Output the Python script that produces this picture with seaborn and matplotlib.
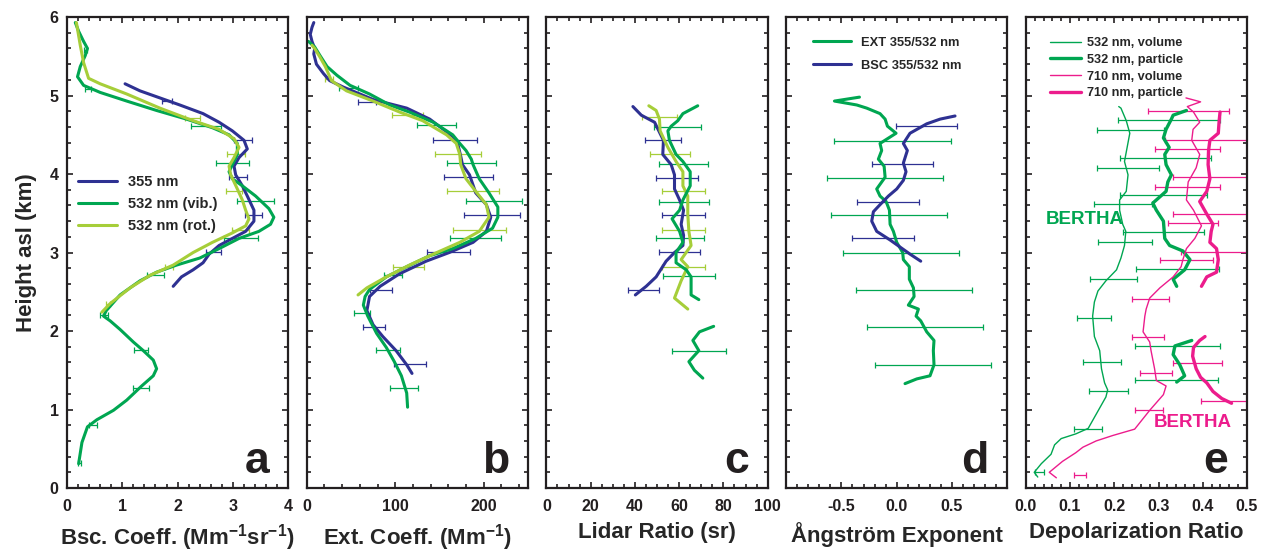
import numpy as np
import matplotlib
matplotlib.use("Agg")
import matplotlib.pyplot as plt
from matplotlib.ticker import MultipleLocator
import seaborn as sns

# colours
BLUE = "#2E3192"
GREEN = "#00A651"
LGREEN = "#A6CE39"
MAGENTA = "#EC1C8C"

# ---- panel a: backscatter coefficient (Mm-1 sr-1) ----
a_355_x = [1.92, 2.07, 2.28, 2.46, 2.57, 2.75, 2.99, 3.23, 3.38, 3.38, 3.26, 3.17, 3.05, 3.02, 3.11, 3.26, 3.20, 2.99, 2.75, 2.46, 2.04, 1.68, 1.32, 1.05]
a_355_y = [2.57, 2.69, 2.78, 2.87, 2.98, 3.09, 3.18, 3.27, 3.40, 3.54, 3.72, 3.85, 3.99, 4.10, 4.21, 4.32, 4.43, 4.55, 4.66, 4.77, 4.88, 4.97, 5.06, 5.15]
a_vib_x = [0.21, 0.27, 0.37, 0.54, 0.84, 1.08, 1.35, 1.56, 1.62, 1.56, 1.38, 1.20, 0.96, 0.78, 0.66, 0.71, 0.96, 1.32, 1.62, 1.98, 2.40, 2.75, 3.11, 3.47, 3.68, 3.74, 3.65, 3.41, 3.17, 2.99, 2.93, 2.99, 3.08, 3.08, 2.93, 2.63, 2.16, 1.62, 1.08, 0.60, 0.30, 0.19, 0.24, 0.33, 0.37, 0.30, 0.21, 0.15]
a_vib_y = [0.31, 0.58, 0.78, 0.87, 0.99, 1.12, 1.30, 1.43, 1.52, 1.63, 1.75, 1.86, 2.02, 2.13, 2.19, 2.26, 2.46, 2.64, 2.75, 2.84, 2.93, 3.05, 3.18, 3.27, 3.36, 3.45, 3.56, 3.72, 3.85, 3.94, 4.03, 4.12, 4.25, 4.39, 4.50, 4.59, 4.70, 4.81, 4.93, 5.04, 5.13, 5.24, 5.37, 5.51, 5.60, 5.69, 5.82, 5.93]
a_rot_x = [0.63, 0.78, 1.14, 1.50, 1.92, 2.28, 2.63, 2.99, 3.23, 3.29, 3.23, 3.17, 3.08, 2.96, 2.93, 3.02, 3.11, 3.02, 2.75, 2.28, 1.68, 1.08, 0.60, 0.39, 0.30, 0.24, 0.17]
a_rot_y = [2.24, 2.35, 2.55, 2.71, 2.84, 3.00, 3.13, 3.25, 3.34, 3.43, 3.54, 3.67, 3.81, 3.99, 4.10, 4.21, 4.34, 4.45, 4.57, 4.68, 4.84, 5.02, 5.15, 5.22, 5.42, 5.64, 5.93]
a_355_err_y = [3.01, 3.48, 3.96, 4.43, 4.93]
a_355_err_lo = [2.51, 3.22, 2.93, 3.02, 1.72]
a_355_err_hi = [2.78, 3.53, 3.25, 3.35, 1.90]
a_vib_err_y = [0.32, 0.80, 1.28, 1.76, 2.21, 2.71, 3.19, 3.66, 4.14, 4.61, 5.08, 5.58]
a_vib_err_lo = [0.19, 0.39, 1.20, 1.21, 0.60, 1.44, 2.83, 3.07, 2.69, 2.25, 0.32, 0.30]
a_vib_err_hi = [0.25, 0.54, 1.49, 1.47, 0.75, 1.75, 3.46, 3.75, 3.29, 2.78, 0.43, 0.37]
a_rot_err_y = [2.35, 2.81, 3.29, 3.78, 4.26, 4.72]
a_rot_err_lo = [0.70, 1.77, 2.98, 2.87, 2.90, 2.13]
a_rot_err_hi = [0.78, 1.92, 3.29, 3.17, 3.22, 2.40]

# ---- panel b: extinction coefficient (Mm-1) ----
b_355_x = [119, 113, 101, 86, 75, 68, 71, 83, 105, 135, 161, 188, 203, 208, 203, 191, 184, 176, 174, 171, 165, 139, 113, 75, 41, 26, 19, 11, 8, 9, 6, 4, 6, 8]
b_355_y = [1.46, 1.57, 1.75, 1.93, 2.08, 2.26, 2.44, 2.57, 2.73, 2.89, 3.00, 3.13, 3.27, 3.45, 3.61, 3.76, 3.99, 4.12, 4.23, 4.37, 4.48, 4.70, 4.84, 4.95, 5.11, 5.19, 5.28, 5.40, 5.53, 5.60, 5.69, 5.78, 5.87, 5.93]
b_vib_x = [114, 113, 107, 99, 90, 79, 69, 64, 66, 71, 90, 113, 139, 165, 191, 210, 216, 216, 206, 195, 188, 186, 180, 173, 165, 143, 116, 94, 71, 49, 34, 23, 15, 9, 2]
b_vib_y = [1.03, 1.21, 1.43, 1.61, 1.79, 1.97, 2.19, 2.33, 2.44, 2.53, 2.69, 2.82, 2.96, 3.05, 3.18, 3.31, 3.45, 3.58, 3.76, 3.94, 4.12, 4.19, 4.30, 4.39, 4.50, 4.66, 4.79, 4.88, 5.02, 5.13, 5.26, 5.37, 5.51, 5.62, 5.69]
b_rot_x = [58, 68, 90, 116, 143, 173, 195, 206, 203, 191, 180, 174, 173, 169, 158, 131, 105, 75, 45, 28, 21, 15, 9, 6]
b_rot_y = [2.46, 2.55, 2.69, 2.84, 2.98, 3.13, 3.27, 3.45, 3.61, 3.78, 3.94, 4.12, 4.25, 4.39, 4.50, 4.68, 4.79, 4.93, 5.06, 5.19, 5.37, 5.49, 5.60, 5.64]
b_355_err_y = [1.58, 2.05, 2.52, 3.01, 3.48, 3.96, 4.43, 4.92]
b_355_err_lo = [99, 64, 71, 136, 178, 155, 143, 58]
b_355_err_hi = [135, 88, 96, 185, 241, 210, 193, 78]
b_vib_err_y = [1.28, 1.76, 2.23, 2.71, 3.19, 3.66, 4.14, 4.62, 5.10]
b_vib_err_lo = [94, 78, 53, 87, 162, 180, 158, 125, 36]
b_vib_err_hi = [126, 105, 71, 108, 220, 243, 214, 169, 58]
b_rot_err_y = [2.81, 3.29, 3.78, 4.26, 4.75, 5.21]
b_rot_err_lo = [98, 165, 159, 145, 96, 21]
b_rot_err_hi = [132, 225, 217, 197, 131, 30]

# ---- panel c: lidar ratio (sr) ----
c_355_x = [40.2, 45.1, 49.6, 54.1, 57.9, 61.7, 62.0, 60.9, 62.0, 60.2, 57.9, 57.9, 56.4, 52.6, 52.9, 48.9, 42.9, 39.1]
c_355_y = [2.46, 2.57, 2.69, 2.89, 3.00, 3.09, 3.22, 3.36, 3.54, 3.67, 3.81, 3.99, 4.12, 4.25, 4.43, 4.66, 4.75, 4.86]
c_rot_x = [63.9, 57.9, 60.9, 63.9, 60.9, 65.4, 64.4, 63.9, 63.9, 61.7, 61.7, 58.6, 54.9, 51.4, 51.1, 49.6, 46.3]
c_rot_y = [2.28, 2.42, 2.64, 2.82, 2.91, 3.09, 3.27, 3.49, 3.72, 3.85, 4.03, 4.16, 4.34, 4.55, 4.70, 4.81, 4.87]
c_vib_x = [68.9, 65.4, 65.4, 63.2, 58.6, 58.6, 61.7, 60.2, 56.8, 60.2, 61.7, 65.0, 65.0, 61.7, 58.6, 55.6, 54.9, 56.4, 59.4, 61.7, 68.4]
c_vib_y = [2.40, 2.46, 2.69, 2.78, 2.87, 3.00, 3.13, 3.27, 3.43, 3.54, 3.67, 3.85, 4.03, 4.16, 4.25, 4.43, 4.55, 4.61, 4.68, 4.77, 4.87]
c_vib_low_x = [70.7, 66.9, 64.4, 68.9, 66.2, 69.2, 75.6]
c_vib_low_y = [1.40, 1.50, 1.61, 1.75, 1.88, 1.99, 2.06]
c_vib_err_y = [1.75, 2.70, 3.18, 3.65, 4.13, 4.60]
c_vib_err_lo = [56.7, 52.9, 49.6, 50.7, 50.7, 48.6]
c_vib_err_hi = [81.2, 76.2, 71.1, 73.4, 72.9, 69.9]
c_355_err_y = [2.52, 3.01, 3.48, 3.95, 4.43]
c_355_err_lo = [37.1, 50.7, 52.3, 49.6, 44.4]
c_355_err_hi = [50.7, 69.6, 71.9, 68.4, 60.9]
c_rot_err_y = [2.81, 3.29, 3.78, 4.25, 4.73]
c_rot_err_lo = [52.2, 52.3, 52.3, 46.9, 43.3]
c_rot_err_hi = [71.7, 71.9, 71.9, 65.0, 59.0]

# ---- panel d: Angstrom exponent ----
d_ext_x = [0.075, 0.181, 0.301, 0.337, 0.331, 0.337, 0.271, 0.217, 0.175, 0.196, 0.105, 0.157, 0.151, 0.114, 0.114, 0.060, 0.054, 0.0, -0.030, -0.060, -0.066, -0.096, -0.151, -0.181, -0.105, -0.114, -0.166, -0.136, -0.151, -0.006, -0.084, -0.105, -0.151, -0.271, -0.361, -0.563, -0.337]
d_ext_y = [1.33, 1.39, 1.43, 1.57, 1.75, 1.88, 1.99, 2.13, 2.19, 2.28, 2.33, 2.44, 2.55, 2.66, 2.82, 2.91, 3.00, 3.13, 3.27, 3.36, 3.54, 3.65, 3.72, 3.81, 3.96, 4.10, 4.19, 4.30, 4.39, 4.52, 4.61, 4.70, 4.77, 4.84, 4.88, 4.93, 4.98]
d_bsc_x = [0.217, 0.120, 0.030, -0.060, -0.181, -0.226, -0.211, -0.151, -0.075, 0.0, 0.060, 0.084, 0.060, 0.096, 0.060, 0.120, 0.271, 0.392, 0.527]
d_bsc_y = [2.89, 2.98, 3.07, 3.16, 3.27, 3.40, 3.52, 3.61, 3.72, 3.81, 3.92, 4.03, 4.14, 4.30, 4.39, 4.52, 4.64, 4.70, 4.74]
d_ext_err_y = [1.57, 2.05, 2.52, 3.00, 3.48, 3.95, 4.42]
d_ext_err_lo = [-0.196, -0.265, -0.367, -0.488, -0.596, -0.633, -0.563]
d_ext_err_hi = [0.849, 0.777, 0.684, 0.563, 0.458, 0.422, 0.488]
d_bsc_err_y = [3.18, 3.65, 4.13, 4.61]
d_bsc_err_lo = [-0.401, -0.355, -0.220, -0.009]
d_bsc_err_hi = [0.157, 0.202, 0.331, 0.548]

# ---- panel e: depolarization ratio ----
e_g_vol_x = [0.027, 0.019, 0.035, 0.057, 0.065, 0.080, 0.113, 0.141, 0.159, 0.181, 0.185, 0.178, 0.171, 0.167, 0.155, 0.151, 0.155, 0.163, 0.181, 0.205, 0.215, 0.223, 0.226, 0.219, 0.212, 0.212, 0.227, 0.231, 0.223, 0.229, 0.235, 0.227, 0.215, 0.210]
e_g_vol_y = [0.14, 0.20, 0.31, 0.43, 0.55, 0.63, 0.69, 0.76, 0.94, 1.16, 1.25, 1.34, 1.52, 1.75, 1.93, 2.19, 2.37, 2.51, 2.64, 2.78, 2.93, 3.09, 3.27, 3.36, 3.54, 3.67, 3.78, 3.99, 4.16, 4.34, 4.52, 4.68, 4.84, 4.86]
e_m_vol_x = [0.069, 0.053, 0.083, 0.113, 0.129, 0.159, 0.197, 0.246, 0.280, 0.311, 0.317, 0.295, 0.291, 0.283, 0.280, 0.265, 0.269, 0.272, 0.280, 0.303, 0.333, 0.351, 0.355, 0.363, 0.382, 0.397, 0.379, 0.363, 0.367, 0.385, 0.393, 0.375, 0.378, 0.393, 0.379, 0.365, 0.395, 0.362]
e_m_vol_y = [0.13, 0.20, 0.34, 0.45, 0.52, 0.60, 0.67, 0.75, 0.99, 1.19, 1.30, 1.37, 1.52, 1.75, 1.86, 1.99, 2.19, 2.28, 2.42, 2.55, 2.69, 2.82, 2.91, 3.05, 3.18, 3.34, 3.54, 3.67, 3.90, 4.08, 4.25, 4.43, 4.57, 4.66, 4.79, 4.86, 4.92, 4.97]
e_g_par_x = [0.341, 0.333, 0.359, 0.371, 0.355, 0.325, 0.314, 0.311, 0.295, 0.287, 0.317, 0.321, 0.329, 0.317, 0.314, 0.324, 0.311, 0.317, 0.329, 0.333, 0.363]
e_g_par_y = [2.57, 2.66, 2.78, 2.91, 3.02, 3.09, 3.18, 3.40, 3.54, 3.63, 3.78, 3.90, 3.99, 4.12, 4.25, 4.34, 4.46, 4.57, 4.70, 4.75, 4.81]
e_g_par_low_x = [0.341, 0.359, 0.348, 0.333, 0.337, 0.375]
e_g_par_low_y = [1.35, 1.43, 1.57, 1.70, 1.81, 1.88]
e_m_par_x = [0.397, 0.409, 0.431, 0.435, 0.431, 0.416, 0.419, 0.423, 0.409, 0.393, 0.409, 0.416, 0.412, 0.413, 0.416, 0.435, 0.437, 0.439]
e_m_par_y = [2.57, 2.69, 2.75, 2.91, 3.05, 3.13, 3.27, 3.36, 3.49, 3.65, 3.78, 3.94, 4.12, 4.30, 4.43, 4.52, 4.68, 4.79]
e_m_par_low_x = [0.465, 0.443, 0.423, 0.409, 0.395, 0.385, 0.377, 0.379, 0.393, 0.405]
e_m_par_low_y = [1.08, 1.14, 1.23, 1.34, 1.41, 1.52, 1.68, 1.79, 1.88, 1.93]
e_g_vol_err_y = [0.20, 0.75, 1.23, 1.60, 2.16, 2.66, 3.13, 3.62, 4.08, 4.56]
e_g_vol_err_lo = [0.021, 0.108, 0.143, 0.130, 0.116, 0.146, 0.163, 0.155, 0.161, 0.161]
e_g_vol_err_hi = [0.040, 0.173, 0.231, 0.215, 0.193, 0.251, 0.286, 0.286, 0.301, 0.312]
e_g_par_err_y = [1.37, 1.81, 2.79, 3.26, 3.73, 4.20, 4.69]
e_g_par_err_lo = [0.246, 0.246, 0.249, 0.219, 0.212, 0.212, 0.209]
e_g_par_err_hi = [0.435, 0.440, 0.437, 0.403, 0.409, 0.419, 0.440]
e_m_vol_err_y = [0.17, 0.99, 1.47, 1.93, 2.41, 2.90, 3.38, 3.84, 4.32, 4.80]
e_m_vol_err_lo = [0.109, 0.246, 0.259, 0.239, 0.239, 0.304, 0.321, 0.291, 0.291, 0.277]
e_m_vol_err_hi = [0.135, 0.309, 0.331, 0.312, 0.324, 0.423, 0.435, 0.440, 0.440, 0.460]
e_m_par_err_y = [1.11, 1.59, 3.01, 3.49, 3.96, 4.44]
e_m_par_err_lo = [0.397, 0.333, 0.351, 0.333, 0.333, 0.315]
e_m_par_err_hi = [0.56, 0.444, 0.56, 0.56, 0.56, 0.56]

sns.set_theme(style="ticks")
plt.rcParams["font.family"] = ["Liberation Sans", "DejaVu Sans"]
plt.rcParams["font.weight"] = "bold"
plt.rcParams["axes.labelweight"] = "bold"
plt.rcParams["mathtext.fontset"] = "custom"
plt.rcParams["mathtext.rm"] = "Liberation Sans:bold"
plt.rcParams["mathtext.bf"] = "Liberation Sans:bold"
plt.rcParams["mathtext.default"] = "rm"


def profile(ax, xs, ys, color, lw=2.2):
    sns.lineplot(x=xs, y=ys, sort=False, estimator=None, color=color,
                 linewidth=lw, ax=ax)
    return ax.lines[-1]


def errbars(ax, ys, lo, hi, color):
    lo = np.array(lo)
    hi = np.array(hi)
    ax.errorbar((lo + hi) / 2, ys, xerr=(hi - lo) / 2, fmt="none", ecolor=color,
                elinewidth=0.9, capsize=2.2, capthick=0.9)


fig, axes = plt.subplots(1, 5, figsize=(12.69, 5.51), dpi=100, sharey=True)
fig.subplots_adjust(left=0.0528, right=0.9827, bottom=0.1143, top=0.969, wspace=0.0835)

# panel a
ax = axes[0]
errbars(ax, a_355_err_y, a_355_err_lo, a_355_err_hi, BLUE)
errbars(ax, a_vib_err_y, a_vib_err_lo, a_vib_err_hi, GREEN)
errbars(ax, a_rot_err_y, a_rot_err_lo, a_rot_err_hi, LGREEN)
h1 = profile(ax, a_355_x, a_355_y, BLUE)
h2 = profile(ax, a_vib_x, a_vib_y, GREEN)
h3 = profile(ax, a_rot_x, a_rot_y, LGREEN)
ax.legend([h1, h2, h3], ["355 nm", "532 nm (vib.)", "532 nm (rot.)"], loc="upper left",
          bbox_to_anchor=(0.05, 0.665), frameon=False, fontsize=10.5, borderpad=0,
          borderaxespad=0, handlelength=2.7, handletextpad=0.7, labelspacing=0.55)
ax.set_xlim(0, 4)
ax.xaxis.set_major_locator(MultipleLocator(1))
ax.xaxis.set_minor_locator(MultipleLocator(0.2))
ax.set_xlabel(r"Bsc. Coeff. (Mm$^{-1}$sr$^{-1}$)")
ax.set_ylabel("Height asl (km)", fontsize=16, labelpad=9)

# panel b
ax = axes[1]
errbars(ax, b_355_err_y, b_355_err_lo, b_355_err_hi, BLUE)
errbars(ax, b_vib_err_y, b_vib_err_lo, b_vib_err_hi, GREEN)
errbars(ax, b_rot_err_y, b_rot_err_lo, b_rot_err_hi, LGREEN)
profile(ax, b_355_x, b_355_y, BLUE)
profile(ax, b_vib_x, b_vib_y, GREEN)
profile(ax, b_rot_x, b_rot_y, LGREEN)
ax.set_xlim(0, 250)
ax.set_xticks([0, 100, 200])
ax.xaxis.set_minor_locator(MultipleLocator(20))
ax.set_xlabel(r"Ext. Coeff. (Mm$^{-1}$)")

# panel c
ax = axes[2]
errbars(ax, c_vib_err_y, c_vib_err_lo, c_vib_err_hi, GREEN)
errbars(ax, c_355_err_y, c_355_err_lo, c_355_err_hi, BLUE)
errbars(ax, c_rot_err_y, c_rot_err_lo, c_rot_err_hi, LGREEN)
profile(ax, c_355_x, c_355_y, BLUE)
profile(ax, c_rot_x, c_rot_y, LGREEN)
profile(ax, c_vib_x, c_vib_y, GREEN)
profile(ax, c_vib_low_x, c_vib_low_y, GREEN)
ax.set_xlim(0, 100)
ax.xaxis.set_major_locator(MultipleLocator(20))
ax.xaxis.set_minor_locator(MultipleLocator(5))
ax.set_xlabel("Lidar Ratio (sr)")

# panel d
ax = axes[3]
errbars(ax, d_ext_err_y, d_ext_err_lo, d_ext_err_hi, GREEN)
errbars(ax, d_bsc_err_y, d_bsc_err_lo, d_bsc_err_hi, BLUE)
h1 = profile(ax, d_ext_x, d_ext_y, GREEN)
h2 = profile(ax, d_bsc_x, d_bsc_y, BLUE)
ax.legend([h1, h2], ["EXT 355/532 nm", "BSC 355/532 nm"], loc="upper left",
          bbox_to_anchor=(0.12, 0.958), frameon=False, fontsize=9.3, borderpad=0,
          borderaxespad=0, handlelength=3.0, handletextpad=0.75, labelspacing=0.85)
ax.set_xlim(-1, 1)
ax.set_xticks([-0.5, 0.0, 0.5])
ax.set_xticklabels(["-0.5", "0.0", "0.5"])
ax.xaxis.set_minor_locator(MultipleLocator(0.1))
ax.set_xlabel("Ångström Exponent")

# panel e
ax = axes[4]
errbars(ax, e_g_vol_err_y, e_g_vol_err_lo, e_g_vol_err_hi, GREEN)
errbars(ax, e_g_par_err_y, e_g_par_err_lo, e_g_par_err_hi, GREEN)
errbars(ax, e_m_vol_err_y, e_m_vol_err_lo, e_m_vol_err_hi, MAGENTA)
errbars(ax, e_m_par_err_y, e_m_par_err_lo, e_m_par_err_hi, MAGENTA)
h1 = profile(ax, e_g_vol_x, e_g_vol_y, GREEN, lw=1.0)
h2 = profile(ax, e_g_par_x, e_g_par_y, GREEN, lw=2.4)
profile(ax, e_g_par_low_x, e_g_par_low_y, GREEN, lw=2.4)
h3 = profile(ax, e_m_vol_x, e_m_vol_y, MAGENTA, lw=1.0)
h4 = profile(ax, e_m_par_x, e_m_par_y, MAGENTA, lw=2.4)
profile(ax, e_m_par_low_x, e_m_par_low_y, MAGENTA, lw=2.4)
ax.legend([h1, h2, h3, h4], ["532 nm, volume", "532 nm, particle", "710 nm, volume", "710 nm, particle"],
          loc="upper left", bbox_to_anchor=(0.11, 0.957), frameon=False, fontsize=9.2,
          borderpad=0, borderaxespad=0, handlelength=2.4, handletextpad=0.5, labelspacing=0.36)
ax.text(0.133, 3.42, "BERTHA", color=GREEN, fontsize=13.5, fontweight="bold", ha="center", va="center")
ax.text(0.377, 0.83, "BERTHA", color=MAGENTA, fontsize=13.5, fontweight="bold", ha="center", va="center")
ax.set_xlim(0, 0.5)
ax.set_xticks([0.0, 0.1, 0.2, 0.3, 0.4, 0.5])
ax.set_xticklabels(["0.0", "0.1", "0.2", "0.3", "0.4", "0.5"])
ax.xaxis.set_minor_locator(MultipleLocator(0.02))
ax.set_xlabel("Depolarization Ratio")

for ax, letter in zip(axes, "abcde"):
    ax.set_ylim(0, 6)
    ax.yaxis.set_major_locator(MultipleLocator(1))
    ax.yaxis.set_minor_locator(MultipleLocator(0.2))
    ax.tick_params(which="both", direction="in", top=True, right=True, width=1.2,
                   colors="#231F20", labelsize=11.5)
    ax.tick_params(which="major", length=4.5)
    ax.tick_params(which="minor", length=2.6)
    ax.tick_params(axis="x", pad=8)
    ax.tick_params(axis="y", pad=6)
    for sp in ax.spines.values():
        sp.set_linewidth(1.6)
        sp.set_color("#231F20")
    ax.xaxis.label.set_size(16)
    ax.xaxis.labelpad = 6
    ax.text(0.915, 0.032, letter, transform=ax.transAxes, fontsize=32, fontweight="bold",
            ha="right", va="baseline", color="#231F20")
    for lab in ax.get_xticklabels() + ax.get_yticklabels():
        lab.set_fontweight("bold")

fig.savefig("out.png", dpi=100)
